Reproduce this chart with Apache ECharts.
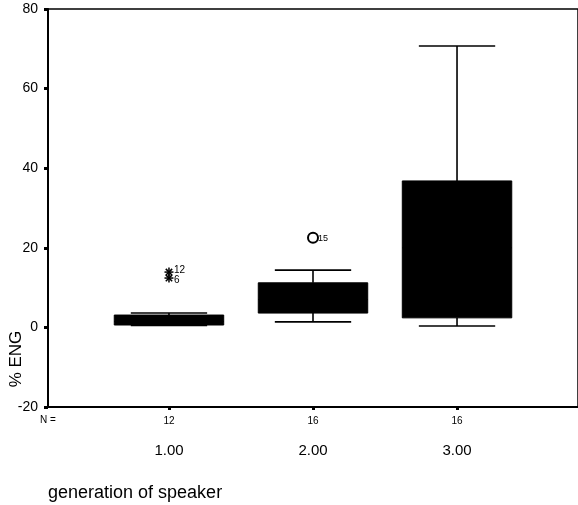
<!DOCTYPE html>
<html><head><meta charset="utf-8">
<script src="https://cdn.jsdelivr.net/npm/echarts@6/dist/echarts.min.js"></script>
<style>html,body{margin:0;padding:0;background:#fff}#c{width:578px;height:505px}</style>
</head><body><div id="c"></div>
<script>
// ---- data ----
const categories = ['1.00', '2.00', '3.00'];
const groupN = [12, 16, 16];
const whiskerLow = [0.5, 1.4, 0.35];
const quartile1 = [0.6, 3.6, 2.4];
const medians = [1.5, 7.0, 20.0];
const quartile3 = [3.1, 11.2, 36.8];
const whiskerHigh = [3.6, 14.4, 70.7];
const outlierGroup = [1, 1, 2];          // 1-based group position
const outlierValues = [13.9, 12.4, 22.5];
const outlierCase = ['12', '6', '15'];
const outlierMarker = ['asterisk', 'asterisk', 'circle'];
const yMin = -20, yMax = 80, yStep = 20;

// ---- build ----
const FONT = '"Liberation Sans", Arial, Helvetica, sans-serif';
const groupPos = categories.map((c, i) => i + 1);
const boxData = groupPos.map((x, i) => [x, whiskerLow[i], quartile1[i], medians[i], quartile3[i], whiskerHigh[i]]);
const outData = outlierValues.map((v, i) => [outlierGroup[i], v, i]);
const BOX_W = 0.76, CAP_W = 0.53;

const chart = echarts.init(document.getElementById('c'), null, {renderer: 'canvas'});
chart.setOption({
  animation: false,
  backgroundColor: '#fff',
  grid: {left: 48, right: -8, top: 9, bottom: 98, show: true, borderColor: '#000', borderWidth: 1.5, backgroundColor: 'transparent'},
  xAxis: {
    type: 'value', min: 0.16, max: 3.84,
    axisLine: {show: true, onZero: false, lineStyle: {color: '#000', width: 2}},
    splitLine: {show: false},
    axisTick: {show: true, customValues: groupPos, length: 3, lineStyle: {color: '#000', width: 3}},
    axisLabel: {
      show: true, customValues: groupPos, margin: 7, color: '#000', fontFamily: FONT,
      formatter: v => '{n|' + groupN[v - 1] + '}\n{c|' + categories[v - 1] + '}',
      rich: {
        n: {fontSize: 10, lineHeight: 14, fontFamily: FONT, color: '#000'},
        c: {fontSize: 15, lineHeight: 46, fontFamily: FONT, color: '#000'}
      }
    }
  },
  yAxis: {
    type: 'value', min: yMin, max: yMax, interval: yStep,
    axisLine: {show: true, lineStyle: {color: '#000', width: 2}},
    splitLine: {show: false},
    axisTick: {show: true, length: 4, lineStyle: {color: '#000', width: 3}},
    axisLabel: {color: '#000', fontSize: 14, fontFamily: FONT, margin: 10}
  },
  graphic: [
    {type: 'text', x: 16, y: 359, rotation: Math.PI / 2,
     style: {text: '% ENG', fontSize: 17, fontFamily: FONT, fill: '#000', align: 'center', verticalAlign: 'middle'}},
    {type: 'text', x: 48, y: 420,
     style: {text: 'N =', fontSize: 10, fontFamily: FONT, fill: '#000', align: 'center', verticalAlign: 'middle'}},
    {type: 'text', x: 48, y: 493,
     style: {text: 'generation of speaker', fontSize: 18, fontFamily: FONT, fill: '#000', align: 'left', verticalAlign: 'middle'}}
  ],
  series: [
    {
      type: 'custom', name: 'box',
      data: boxData,
      renderItem: function (params, api) {
        const x = api.value(0);
        const lo = api.coord([x, api.value(1)]);
        const q1 = api.coord([x, api.value(2)]);
        const md = api.coord([x, api.value(3)]);
        const q3 = api.coord([x, api.value(4)]);
        const hi = api.coord([x, api.value(5)]);
        const bw = api.size([BOX_W, 0])[0];
        const cw = api.size([CAP_W, 0])[0];
        const ln = {stroke: '#000', lineWidth: 1.6};
        return {type: 'group', children: [
          {type: 'line', shape: {x1: lo[0], y1: lo[1], x2: q1[0], y2: q1[1]}, style: ln},
          {type: 'line', shape: {x1: q3[0], y1: q3[1], x2: hi[0], y2: hi[1]}, style: ln},
          {type: 'line', shape: {x1: lo[0] - cw / 2, y1: lo[1], x2: lo[0] + cw / 2, y2: lo[1]}, style: ln},
          {type: 'line', shape: {x1: hi[0] - cw / 2, y1: hi[1], x2: hi[0] + cw / 2, y2: hi[1]}, style: ln},
          {type: 'rect', shape: {x: q3[0] - bw / 2, y: q3[1], width: bw, height: q1[1] - q3[1]}, style: {fill: '#000', stroke: '#000', lineWidth: 1}},
          {type: 'line', shape: {x1: md[0] - bw / 2, y1: md[1], x2: md[0] + bw / 2, y2: md[1]}, style: {stroke: '#000', lineWidth: 1}}
        ]};
      }
    },
    {
      type: 'custom', name: 'outliers',
      data: outData,
      renderItem: function (params, api) {
        const p = api.coord([api.value(0), api.value(1)]);
        const i = api.value(2);
        const children = [];
        if (outlierMarker[i] === 'asterisk') {
          const r = 4.5;
          const st = {stroke: '#000', lineWidth: 1.5};
          [0, 45, 90, 135].forEach(a => {
            const t = a * Math.PI / 180;
            children.push({type: 'line', shape: {x1: p[0] - r * Math.cos(t), y1: p[1] - r * Math.sin(t), x2: p[0] + r * Math.cos(t), y2: p[1] + r * Math.sin(t)}, style: st});
          });
          children.push({type: 'text', x: p[0] + 5, y: p[1] + (outlierCase[i] === '6' ? 2 : -2),
            style: {text: outlierCase[i], fontSize: 10, fontFamily: FONT, fill: '#000', align: 'left', verticalAlign: 'middle'}});
        } else {
          children.push({type: 'circle', shape: {cx: p[0], cy: p[1], r: 5}, style: {fill: 'none', stroke: '#000', lineWidth: 2}});
          children.push({type: 'text', x: p[0] + 5, y: p[1] + 1,
            style: {text: outlierCase[i], fontSize: 9, fontFamily: FONT, fill: '#000', align: 'left', verticalAlign: 'middle'}});
        }
        return {type: 'group', children: children};
      }
    }
  ]
});
</script>
</body></html>
